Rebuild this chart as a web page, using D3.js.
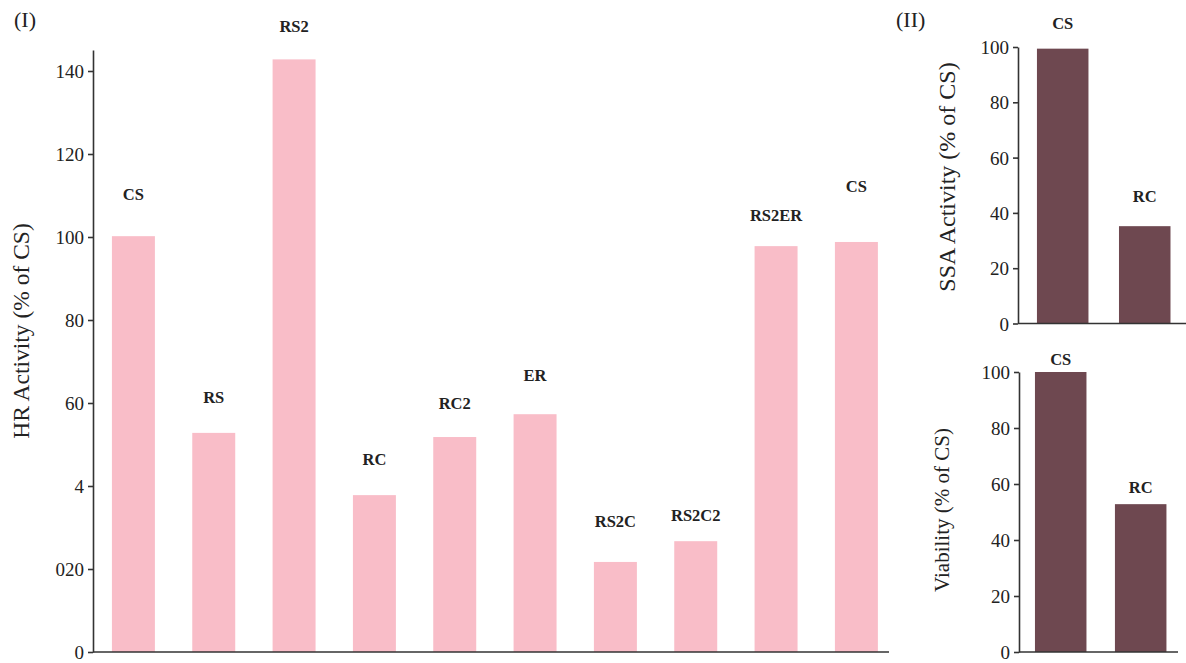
<!DOCTYPE html>
<html>
<head>
<meta charset="utf-8">
<script src="https://cdn.jsdelivr.net/npm/d3@7"></script>
<style>
  body { margin: 0; background: #fff; }
  svg, svg text { font-family: "Liberation Serif", "Times New Roman", serif; }
  .tick text { font-size: 19px; fill: #222; font-family: "Liberation Serif", serif; }
  .domain, .tick line { stroke: #333; stroke-width: 1.6; }
  .barLabel { font-size: 16.5px; font-weight: bold; fill: #222; text-anchor: middle; }
  .axisTitle { font-size: 22px; fill: #222; text-anchor: middle; }
  .panelTag { font-size: 22px; fill: #222; }
</style>
</head>
<body>
<div id="chart"></div>
<script>

//data - panel I
var hrCats = ["CS", "RS", "RS2", "RC", "RC2", "ER", "RS2C", "RS2C2", "RS2ER", "CS"];
var hrValues = [100.2, 52.8, 142.8, 37.8, 51.8, 57.3, 21.7, 26.7, 97.8, 98.8];
var hrTicks = [0, 20, 40, 60, 80, 100, 120, 140];
var hrTickLabels = ["0", "020", "4", "60", "80", "100", "120", "140"];

//data - panel II
var iiCats = ["CS", "RC"];
var ssaValues = [99.4, 35.2];
var viaValues = [100, 52.8];
var iiTicks = [0, 20, 40, 60, 80, 100];

//label gaps above bar tops (px, layout only)
var hrLabelGap = [42, 35, 33, 36, 34, 39, 40, 26, 31, 55];
var ssaLabelGap = [25, 30];
var viaLabelGap = [13, 17];

var W = 1186, H = 663;
var pink = "#f9bdc8", maroon = "#6e4850";

var svg = d3.select("#chart")
  .append("svg")
  .attr("width", W)
  .attr("height", H);


function drawPanel(opt) {
  var x = d3.scaleBand()
    .domain(d3.range(opt.values.length))
    .range([opt.x0, opt.x1])
    .paddingInner(opt.pi)
    .paddingOuter(opt.po)
    .align(opt.align);

  var y = d3.scaleLinear()
    .domain([0, opt.yMax])
    .range([opt.y0, opt.y1]);

  var g = svg.append("g");

  //bars
  g.selectAll(".bar")
    .data(opt.values)
    .enter()
    .append("rect")
    .attr("x", function(d, i) { return x(i); })
    .attr("y", function(d) { return y(d); })
    .attr("width", x.bandwidth())
    .attr("height", function(d) { return y(0) - y(d); })
    .style("fill", opt.color);

  //bar labels
  g.selectAll(".barLabel")
    .data(opt.values)
    .enter()
    .append("text")
    .attr("class", "barLabel")
    .attr("x", function(d, i) { return x(i) + x.bandwidth() / 2; })
    .attr("y", function(d, i) { return y(d) - opt.gaps[i] + 5.5; })
    .text(function(d, i) { return opt.cats[i]; });

  //y axis
  var yAxis = d3.axisLeft(y)
    .tickValues(opt.ticks)
    .tickSizeInner(5)
    .tickSizeOuter(0)
    .tickPadding(4)
    .tickFormat(function(d, i) { return opt.tickLabels[i]; });

  g.append("g")
    .attr("transform", "translate(" + opt.x0 + ",0)")
    .attr("font-family", null)
    .call(yAxis)
    .selectAll("text")
    .attr("dy", "0.35em");

  //x axis line
  g.append("g")
    .attr("transform", "translate(0," + opt.y0 + ")")
    .call(d3.axisBottom(x).tickValues([]).tickSizeOuter(0))
    .select(".domain")
    .attr("d", "M" + opt.x0 + ",0H" + opt.xEnd);

  //axis title
  g.append("text")
    .attr("class", "axisTitle")
    .attr("transform", "translate(" + opt.tx + "," + opt.ty + ") rotate(-90)")
    .attr("dy", "0.35em")
    .style("font-size", opt.tSize + "px")
    .text(opt.title);
}


drawPanel({
  values: hrValues, cats: hrCats, gaps: hrLabelGap, color: pink,
  x0: 93, x1: 889, xEnd: 889, pi: 0.465, po: 0.187, align: 0.63,
  y0: 652, y1: 50, yMax: (652 - 50) / 4.15,
  ticks: hrTicks, tickLabels: hrTickLabels,
  title: "HR Activity (% of CS)", tx: 21, ty: 331, tSize: 23.5
});

drawPanel({
  values: ssaValues, cats: iiCats, gaps: ssaLabelGap, color: maroon,
  x0: 1018, x1: 1186, xEnd: 1186, pi: 0.372, po: 0.21, align: 0.55,
  y0: 323.5, y1: 47, yMax: 100,
  ticks: iiTicks, tickLabels: iiTicks.map(String),
  title: "SSA Activity (% of CS)", tx: 947, ty: 177, tSize: 24
});

drawPanel({
  values: viaValues, cats: iiCats, gaps: viaLabelGap, color: maroon,
  x0: 1019, x1: 1178, xEnd: 1178, pi: 0.356, po: 0.172, align: 0.58,
  y0: 652, y1: 372, yMax: 100,
  ticks: iiTicks, tickLabels: iiTicks.map(String),
  title: "Viability (% of CS)", tx: 942, ty: 510, tSize: 21
});


//panel tags
svg.append("text")
  .attr("class", "panelTag")
  .attr("x", 14)
  .attr("y", 27)
  .text("(I)");

svg.append("text")
  .attr("class", "panelTag")
  .attr("x", 896)
  .attr("y", 27)
  .text("(II)");

</script>
</body>
</html>
